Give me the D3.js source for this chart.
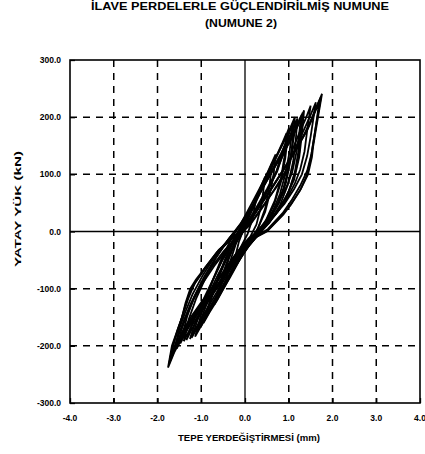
<!DOCTYPE html>
<html>
<head>
<meta charset="utf-8">
<script src="https://cdn.jsdelivr.net/npm/d3@7"></script>
<style>
  html, body { margin: 0; padding: 0; background: #fff; }
  svg { display: block; }
  text { font-family: "Liberation Sans", Arial, sans-serif; font-weight: bold; fill: #000; }
</style>
</head>
<body>
<svg id="chart" width="425" height="454"></svg>
<script>
// ---- data ----
const titleLines = ["İLAVE PERDELERLE GÜÇLENDİRİLMİŞ NUMUNE", "(NUMUNE 2)"];
const xTitle = "TEPE YERDEĞİŞTİRMESİ (mm)";
const yTitle = "YATAY YÜK (kN)";
const xTicks = [-4, -3, -2, -1, 0, 1, 2, 3, 4];
const xTickLabels = ["-4.0", "-3.0", "-2.0", "-1.0", "0.0", "1.0", "2.0", "3.0", "4.0"];
const yTicks = [-300, -200, -100, 0, 100, 200, 300];
const yTickLabels = ["-300.0", "-200.0", "-100.0", "0.0", "100.0", "200.0", "300.0"];

// hysteresis cycles: [displacement, load]
const loop1 = [[-0.24,-50],[-0.10,-28],[0.06,-4],[0.18,24],[0.24,52],[0.14,34],[0.00,10],[-0.14,-18],[-0.24,-50]];
const loop2 = [[-0.46,-92],[-0.32,-70],[-0.14,-44],[0.06,-18],[0.26,12],[0.38,48],[0.46,96],[0.36,78],[0.22,52],[0.04,22],[-0.16,-10],[-0.32,-48],[-0.46,-92]];
const loop3 = [[-0.70,-128],[-0.54,-106],[-0.34,-80],[-0.14,-52],[0.06,-26],[0.26,0],[0.46,34],[0.60,76],[0.66,104],[0.70,135],[0.60,118],[0.46,94],[0.30,66],[0.10,34],[-0.12,2],[-0.32,-34],[-0.50,-72],[-0.60,-100],[-0.70,-128]];
const loop3b = [[-0.62,-115],[-0.48,-94],[-0.30,-70],[-0.10,-44],[0.10,-18],[0.30,6],[0.46,40],[0.56,80],[0.62,120],[0.52,100],[0.38,74],[0.22,46],[0.02,16],[-0.18,-12],[-0.36,-46],[-0.50,-80],[-0.62,-115]];
const loop4 = [[-0.95,-160],[-0.80,-140],[-0.62,-118],[-0.42,-90],[-0.22,-60],[0.00,-32],[0.24,-8],[0.48,20],[0.68,54],[0.82,92],[0.90,130],[0.95,172],[0.86,156],[0.74,136],[0.58,110],[0.40,80],[0.18,46],[-0.06,14],[-0.28,-18],[-0.48,-54],[-0.66,-92],[-0.80,-124],[-0.95,-160]];
const loop4b = [[-1.02,-168],[-0.86,-146],[-0.68,-122],[-0.48,-96],[-0.26,-66],[-0.04,-38],[0.20,-14],[0.44,12],[0.66,46],[0.82,86],[0.92,128],[1.00,180],[0.90,160],[0.78,140],[0.62,114],[0.44,84],[0.22,50],[-0.02,18],[-0.24,-14],[-0.46,-50],[-0.64,-88],[-0.82,-126],[-1.02,-168]];
const loopA = [[-1.10,-176],[-0.94,-154],[-0.76,-130],[-0.56,-104],[-0.34,-76],[-0.12,-48],[0.12,-22],[0.38,2],[0.62,32],[0.80,66],[0.92,100],[1.02,140],[1.10,190],[1.00,170],[0.88,146],[0.78,122],[0.72,104],[0.52,72],[0.30,42],[0.06,12],[-0.18,-16],[-0.42,-48],[-0.64,-86],[-0.84,-120],[-0.98,-148],[-1.10,-176]];
const loop5 = [[-1.14,-184],[-0.98,-162],[-0.82,-140],[-0.62,-114],[-0.40,-86],[-0.18,-56],[0.06,-28],[0.30,-6],[0.56,20],[0.78,50],[0.94,86],[1.04,124],[1.09,160],[1.14,200],[1.04,182],[0.92,162],[0.76,138],[0.58,112],[0.38,82],[0.16,50],[-0.08,16],[-0.32,-14],[-0.54,-48],[-0.74,-86],[-0.90,-120],[-1.02,-150],[-1.14,-184]];
const loopB = [[-1.26,-188],[-1.10,-166],[-0.92,-142],[-0.72,-116],[-0.52,-90],[-0.30,-62],[-0.06,-34],[0.20,-10],[0.46,14],[0.72,44],[0.88,76],[0.98,106],[1.08,148],[1.18,195],[1.08,176],[0.96,154],[0.84,130],[0.74,106],[0.56,78],[0.34,48],[0.10,16],[-0.14,-12],[-0.40,-44],[-0.62,-76],[-0.82,-108],[-1.00,-136],[-1.14,-160],[-1.26,-188]];
const loop5b = [[-1.22,-186],[-1.06,-164],[-0.88,-142],[-0.68,-116],[-0.46,-88],[-0.22,-58],[0.02,-30],[0.28,-8],[0.56,16],[0.80,46],[0.98,82],[1.10,122],[1.16,160],[1.20,198],[1.10,180],[0.98,160],[0.82,136],[0.62,108],[0.40,76],[0.18,44],[-0.06,12],[-0.30,-18],[-0.54,-52],[-0.76,-90],[-0.94,-124],[-1.08,-154],[-1.22,-186]];
const loopC = [[-1.34,-190],[-1.18,-166],[-1.00,-142],[-0.78,-114],[-0.54,-84],[-0.30,-54],[-0.06,-26],[0.22,-4],[0.50,20],[0.76,50],[0.96,80],[1.08,104],[1.18,140],[1.24,172],[1.28,202],[1.16,180],[1.02,158],[0.86,132],[0.72,106],[0.50,74],[0.26,42],[0.02,12],[-0.24,-16],[-0.50,-48],[-0.72,-82],[-0.92,-114],[-1.08,-140],[-1.22,-164],[-1.34,-190]];
const loop6 = [[-1.40,-192],[-1.24,-168],[-1.06,-146],[-0.82,-120],[-0.56,-90],[-0.30,-58],[-0.04,-28],[0.24,-6],[0.54,14],[0.80,40],[1.00,70],[1.14,104],[1.22,140],[1.26,172],[1.30,205],[1.20,186],[1.06,164],[0.88,140],[0.68,114],[0.44,82],[0.18,46],[-0.10,14],[-0.38,-14],[-0.66,-46],[-0.92,-84],[-1.12,-118],[-1.28,-152],[-1.40,-192]];
const loop6b = [[-1.48,-196],[-1.32,-172],[-1.12,-148],[-0.88,-122],[-0.62,-92],[-0.36,-62],[-0.10,-32],[0.18,-10],[0.48,10],[0.76,36],[0.98,66],[1.14,100],[1.24,138],[1.28,172],[1.32,208],[1.22,188],[1.08,166],[0.90,142],[0.70,116],[0.46,84],[0.20,48],[-0.08,14],[-0.36,-12],[-0.66,-44],[-0.94,-80],[-1.16,-114],[-1.32,-148],[-1.48,-196]];
const loop7 = [[-1.60,-202],[-1.44,-176],[-1.24,-150],[-1.00,-124],[-0.72,-96],[-0.44,-66],[-0.18,-36],[0.08,-12],[0.36,4],[0.68,30],[0.92,58],[1.12,90],[1.24,130],[1.30,170],[1.35,212],[1.24,190],[1.10,168],[0.92,144],[0.72,118],[0.48,86],[0.22,50],[-0.06,16],[-0.34,-10],[-0.66,-40],[-0.96,-76],[-1.20,-110],[-1.36,-140],[-1.50,-170],[-1.60,-202]];
const loopD = [[-1.56,-205],[-1.42,-182],[-1.24,-158],[-1.02,-132],[-0.76,-102],[-0.48,-70],[-0.20,-40],[0.08,-16],[0.38,4],[0.70,30],[0.96,58],[1.14,84],[1.26,108],[1.36,140],[1.42,176],[1.50,220],[1.38,196],[1.24,172],[1.10,146],[0.96,104],[0.74,80],[0.46,50],[0.18,20],[-0.10,-6],[-0.40,-30],[-0.70,-60],[-0.98,-92],[-1.18,-120],[-1.34,-148],[-1.46,-174],[-1.56,-205]];
const loopE = [[-1.66,-214],[-1.52,-190],[-1.34,-166],[-1.12,-140],[-0.86,-112],[-0.58,-80],[-0.30,-48],[-0.02,-22],[0.28,-2],[0.60,22],[0.90,48],[1.12,74],[1.30,100],[1.42,132],[1.50,166],[1.56,196],[1.62,226],[1.50,204],[1.36,180],[1.20,154],[1.02,122],[0.90,102],[0.66,72],[0.38,40],[0.12,12],[-0.18,-10],[-0.48,-34],[-0.78,-64],[-1.04,-96],[-1.24,-126],[-1.40,-156],[-1.54,-186],[-1.66,-214]];
const loop8 = [[-1.76,-238],[-1.62,-212],[-1.46,-188],[-1.24,-160],[-0.96,-130],[-0.66,-100],[-0.36,-66],[-0.08,-34],[0.20,-12],[0.50,0],[0.88,30],[1.07,50],[1.28,75],[1.44,100],[1.53,130],[1.56,150],[1.62,178],[1.68,205],[1.76,241],[1.62,215],[1.50,192],[1.38,172],[1.16,142],[0.88,108],[0.58,72],[0.28,38],[0.03,8],[-0.30,-12],[-0.60,-32],[-0.90,-62],[-1.12,-84],[-1.25,-100],[-1.36,-125],[-1.44,-150],[-1.56,-176],[-1.67,-200],[-1.76,-238]];
const loop8b = [[-1.74,-232],[-1.60,-206],[-1.44,-182],[-1.22,-156],[-0.94,-126],[-0.64,-96],[-0.34,-62],[-0.06,-32],[0.22,-10],[0.52,4],[0.86,32],[1.06,54],[1.26,80],[1.42,106],[1.52,136],[1.58,165],[1.65,198],[1.74,236],[1.60,212],[1.48,190],[1.34,168],[1.12,138],[0.84,104],[0.54,68],[0.26,36],[0.00,6],[-0.32,-14],[-0.62,-36],[-0.92,-66],[-1.14,-90],[-1.28,-110],[-1.38,-134],[-1.48,-160],[-1.60,-188],[-1.74,-232]];
const loop9 = [[-1.72,-224],[-1.58,-198],[-1.42,-178],[-1.20,-152],[-0.92,-124],[-0.62,-94],[-0.32,-60],[-0.04,-30],[0.24,-10],[0.52,2],[0.84,28],[1.04,46],[1.26,72],[1.40,96],[1.50,126],[1.56,155],[1.63,190],[1.70,228],[1.58,205],[1.44,180],[1.26,156],[1.06,130],[0.80,98],[0.50,62],[0.22,30],[-0.04,4],[-0.34,-14],[-0.64,-36],[-0.92,-64],[-1.16,-92],[-1.30,-118],[-1.42,-146],[-1.54,-172],[-1.64,-198],[-1.72,-224]];
const loops = [loop1, loop2, loop3, loop3b, loop4, loop4b, loopA, loop5, loopB, loop5b, loopC, loop6, loop6b, loop7, loopD, loopE, loop8, loop8b, loop9];

// ---- drawing ----
const W = 425, H = 454;
const m = { left: 70, right: 5, top: 60, bottom: 51 };
const svg = d3.select("#chart");
const x = d3.scaleLinear().domain([-4, 4]).range([m.left, W - m.right]);
const y = d3.scaleLinear().domain([-300, 300]).range([H - m.bottom, m.top]);

const g = svg.append("g");

// dashed grid
g.selectAll("line.vg").data(xTicks.filter(d => d !== 0 && Math.abs(d) !== 4)).enter()
  .append("line").attr("x1", d => x(d)).attr("x2", d => x(d))
  .attr("y1", y(300)).attr("y2", y(-300))
  .attr("stroke", "#000").attr("stroke-width", 1.5).attr("stroke-dasharray", "7,6");
g.selectAll("line.hg").data(yTicks.filter(d => d !== 0 && Math.abs(d) !== 300)).enter()
  .append("line").attr("y1", d => y(d)).attr("y2", d => y(d))
  .attr("x1", x(-4)).attr("x2", x(4))
  .attr("stroke", "#000").attr("stroke-width", 1.5).attr("stroke-dasharray", "7,6");

// zero lines
g.append("line").attr("x1", x(0)).attr("x2", x(0)).attr("y1", y(300)).attr("y2", y(-300))
  .attr("stroke", "#000").attr("stroke-width", 1.3);
g.append("line").attr("y1", y(0)).attr("y2", y(0)).attr("x1", x(-4)).attr("x2", x(4))
  .attr("stroke", "#000").attr("stroke-width", 1.3);

// axes (ticks inward, no labels from axis)
const xAxis = d3.axisBottom(x).tickValues(xTicks).tickSize(-5).tickFormat("");
const yAxis = d3.axisLeft(y).tickValues(yTicks).tickSize(-5).tickFormat("");
const xa = g.append("g").attr("transform", `translate(0,${y(-300)})`).call(xAxis);
const ya = g.append("g").attr("transform", `translate(${x(-4)},0)`).call(yAxis);
[xa, ya].forEach(a => { a.select(".domain").remove(); a.selectAll("line").attr("stroke-width", 1.3); });

// frame
g.append("rect").attr("x", x(-4)).attr("y", y(300))
  .attr("width", x(4) - x(-4)).attr("height", y(-300) - y(300))
  .attr("fill", "none").attr("stroke", "#000").attr("stroke-width", 1.6);

// tick labels
g.selectAll("text.xt").data(xTicks).enter().append("text")
  .attr("x", d => x(d)).attr("y", y(-300) + 18)
  .attr("text-anchor", "middle").attr("font-size", 8.5)
  .text((d, i) => xTickLabels[i]);
g.selectAll("text.yt").data(yTicks).enter().append("text")
  .attr("x", x(-4) - 9).attr("y", d => y(d) + 3)
  .attr("text-anchor", "end").attr("font-size", 8.5)
  .text((d, i) => yTickLabels[i]);

// data
const line = d3.line().x(d => x(d[0])).y(d => y(d[1])).curve(d3.curveLinear);
g.selectAll("path.loop").data(loops).enter().append("path")
  .attr("d", line).attr("fill", "none").attr("stroke", "#000")
  .attr("stroke-width", 1.8).attr("stroke-linejoin", "miter");

// titles
svg.append("text").attr("x", 240).attr("y", 10).attr("text-anchor", "middle")
  .attr("font-size", 10).attr("textLength", 298).attr("lengthAdjust", "spacingAndGlyphs")
  .text(titleLines[0]);
svg.append("text").attr("x", 241).attr("y", 27).attr("text-anchor", "middle")
  .attr("font-size", 10).attr("textLength", 72).attr("lengthAdjust", "spacingAndGlyphs")
  .text(titleLines[1]);
svg.append("text").attr("x", 249).attr("y", 441).attr("text-anchor", "middle")
  .attr("font-size", 9).attr("textLength", 142).attr("lengthAdjust", "spacingAndGlyphs")
  .text(xTitle);
svg.append("text").attr("transform", "translate(21,209) rotate(-90)").attr("text-anchor", "middle")
  .attr("font-size", 9).attr("textLength", 116).attr("lengthAdjust", "spacingAndGlyphs")
  .text(yTitle);
</script>
</body>
</html>
